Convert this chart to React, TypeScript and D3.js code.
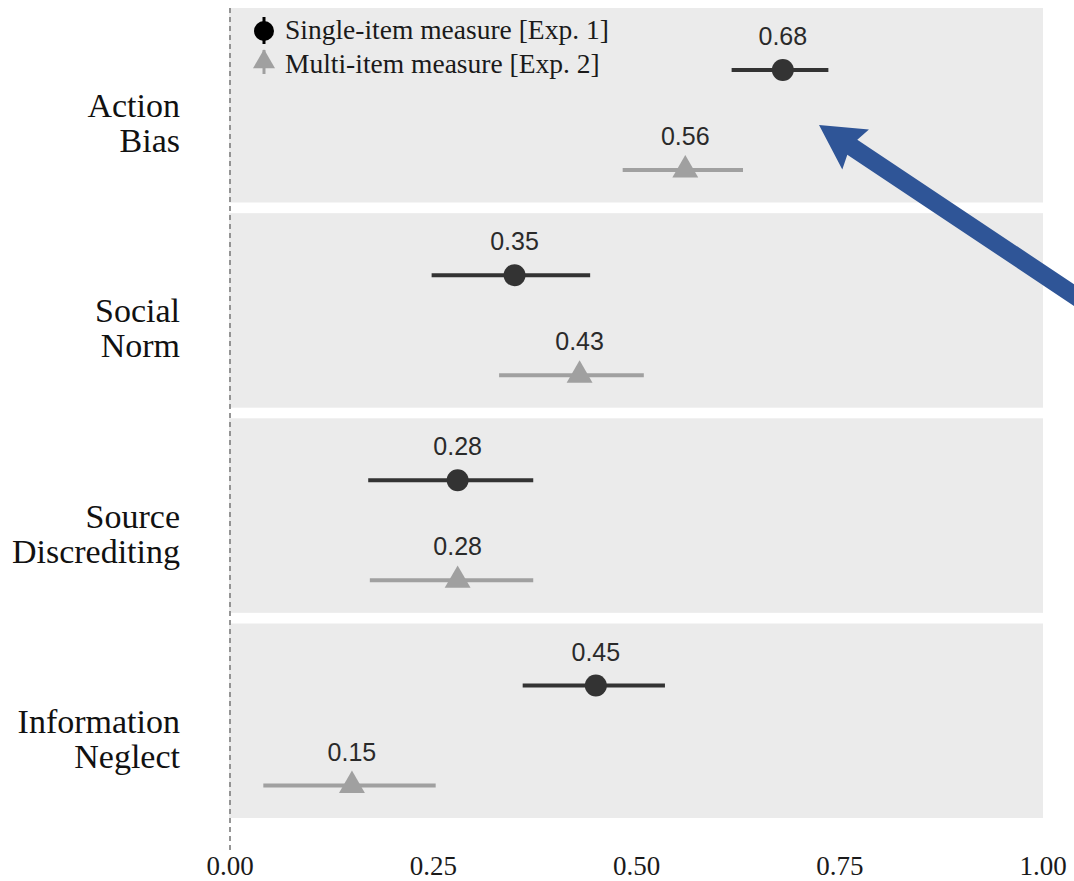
import * as d3 from "d3";

// categories (top to bottom), each label split in two lines
const categories = ["Action Bias", "Social Norm", "Source Discrediting", "Information Neglect"];
const categoryLines = [
  ["Action", "Bias"],
  ["Social", "Norm"],
  ["Source", "Discrediting"],
  ["Information", "Neglect"],
];

// single-item measure [Exp. 1]
const singleEst = [0.68, 0.35, 0.28, 0.45];
const singleLo = [0.617, 0.248, 0.17, 0.36];
const singleHi = [0.736, 0.443, 0.373, 0.535];

// multi-item measure [Exp. 2]
const multiEst = [0.56, 0.43, 0.28, 0.15];
const multiLo = [0.483, 0.331, 0.172, 0.041];
const multiHi = [0.631, 0.509, 0.373, 0.253];

const xTicks = [0, 0.25, 0.5, 0.75, 1];
const legendLabels = ["Single-item measure [Exp. 1]", "Multi-item measure [Exp. 2]"];

const W = 1074;
const H = 881;
const SERIF = "'Liberation Serif', 'Times New Roman', serif";
const SANS = "'Liberation Sans', Arial, sans-serif";

const DARK = "#333333";
const LIGHT = "#a0a0a0";
const PANEL = "#ebebeb";
const ARROW = "#2f5597";

export default function App() {
  const x = d3.scaleLinear().domain([0, 1]).range([230, 1043]);
  const y = d3.scaleBand().domain(categories).range([8, 818]).paddingInner(0.052);
  const inner = d3.scalePoint().domain(["single", "multi"]).range([62, 162]);

  const tri = d3.symbol(d3.symbolTriangle, 290)();
  const triSmall = d3.symbol(d3.symbolTriangle, 210)();

  const series = [
    { key: "single", est: singleEst, lo: singleLo, hi: singleHi, color: DARK },
    { key: "multi", est: multiEst, lo: multiLo, hi: multiHi, color: LIGHT },
  ];

  // annotation arrow pointing at Action Bias single-item estimate
  const tipX = x(0.7245);
  const tipY = (y(categories[0]) as number) + 117;
  const ux = 0.832, uy = 0.555;
  const nx = -uy, ny = ux;
  const headLen = 44, headHalf = 24, shaft = 9, len = 330;
  const bx = tipX + headLen * ux, by = tipY + headLen * uy;
  const jx = tipX + (headLen - 4) * ux, jy = tipY + (headLen - 4) * uy;
  const ex = tipX + len * ux, ey = tipY + len * uy;
  const arrowPts = [
    [tipX, tipY],
    [bx + headHalf * nx, by + headHalf * ny],
    [jx + shaft * nx, jy + shaft * ny],
    [ex + shaft * nx, ey + shaft * ny],
    [ex - shaft * nx, ey - shaft * ny],
    [jx - shaft * nx, jy - shaft * ny],
    [bx - headHalf * nx, by - headHalf * ny],
  ];

  return (
    <div style={{ position: "absolute", left: 0, top: 0 }}>
      <svg width={W} height={H} style={{ display: "block", background: "#fff" }}>
        {/* panels */}
        {categories.map((c) => (
          <rect key={c} x={x(0) - 1} y={y(c)} width={x(1) - x(0) + 1} height={y.bandwidth()} fill={PANEL} />
        ))}

        {/* zero reference line */}
        <line x1={x(0)} x2={x(0)} y1={8} y2={852} stroke="#8a8a8a" strokeWidth={1.8} strokeDasharray="5,4" />

        {/* category labels */}
        {categories.map((c, i) => {
          const mid = (y(c) as number) + y.bandwidth() / 2;
          return (
            <text key={c} textAnchor="end" fontFamily={SERIF} fontSize={34} fill="#111">
              {categoryLines[i].map((t, j) => (
                <tspan key={t} x={180} y={mid + 12 + j * 35}>
                  {t}
                </tspan>
              ))}
            </text>
          );
        })}

        {/* point ranges */}
        {series.map((s) =>
          categories.map((c, i) => {
            const cy = (y(c) as number) + (inner(s.key) as number);
            const cx = x(s.est[i]);
            return (
              <g key={s.key + c}>
                <line x1={x(s.lo[i])} x2={x(s.hi[i])} y1={cy} y2={cy} stroke={s.color} strokeWidth={4} />
                {s.key === "single" ? (
                  <circle cx={cx} cy={cy} r={11} fill={s.color} />
                ) : (
                  <path d={tri as string} transform={`translate(${cx},${cy})`} fill={s.color} />
                )}
                <text x={cx} y={cy - 25} textAnchor="middle" fontFamily={SANS} fontSize={25} fill="#2a2a2a">
                  {s.est[i].toFixed(2)}
                </text>
              </g>
            );
          })
        )}

        {/* legend */}
        <g>
          <line x1={264} x2={264} y1={17} y2={44} stroke="#000" strokeWidth={3} />
          <circle cx={264} cy={31} r={10} fill="#000" />
          <line x1={264} x2={264} y1={50} y2={74} stroke={LIGHT} strokeWidth={3} />
          <path d={triSmall as string} transform={`translate(264,62)`} fill={LIGHT} />
          {legendLabels.map((t, i) => (
            <text key={t} x={285} y={39 + i * 34} fontFamily={SERIF} fontSize={27.5} fill="#1a1a1a">
              {t}
            </text>
          ))}
        </g>

        {/* x axis tick labels */}
        {xTicks.map((t) => (
          <text key={t} x={x(t)} y={875} textAnchor="middle" fontFamily={SERIF} fontSize={27} fill="#1a1a1a">
            {d3.format(".2f")(t)}
          </text>
        ))}

        {/* annotation arrow */}
        <polygon points={arrowPts.map((p) => p.join(",")).join(" ")} fill={ARROW} />
      </svg>
    </div>
  );
}
